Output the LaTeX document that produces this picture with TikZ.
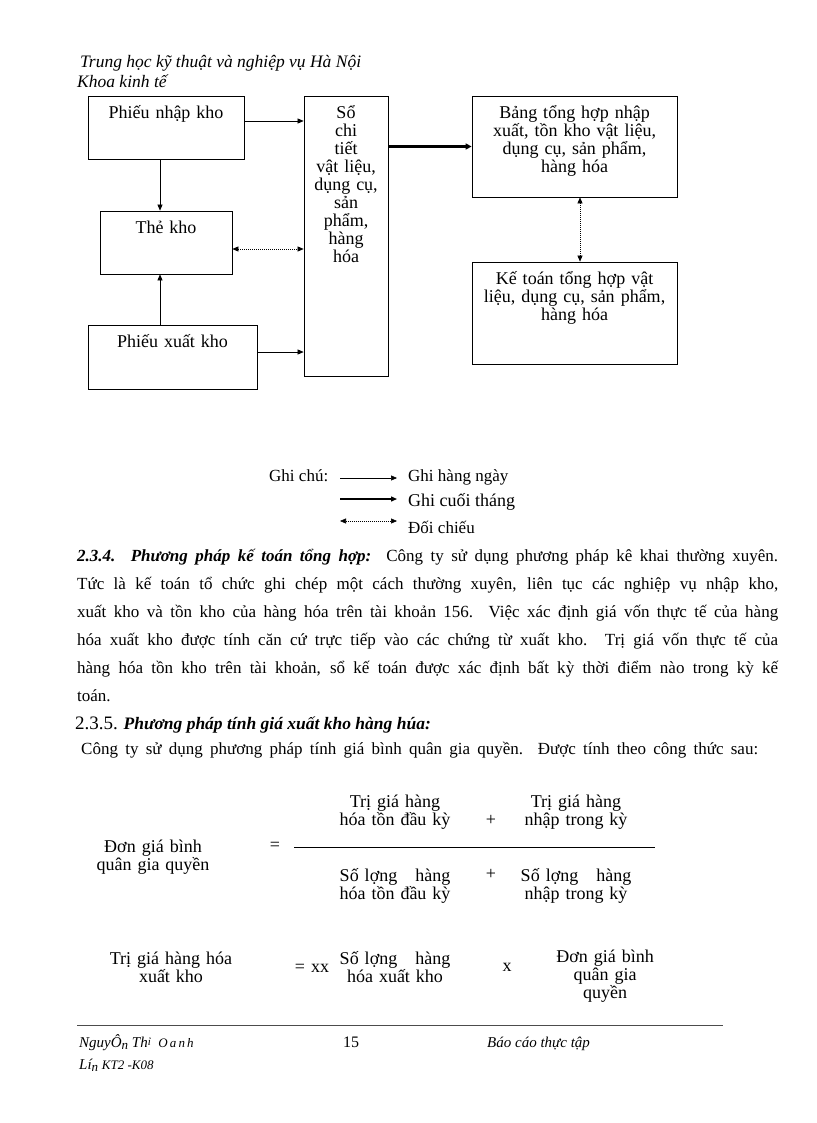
\documentclass[tikz,border=0pt]{standalone}
\usepackage{fontspec}
\setmainfont{Liberation Serif}
\usetikzlibrary{arrows.meta,calc}

\begin{document}
\begin{tikzpicture}[x=1pt,y=-1pt,>={Triangle[length=6pt,width=5pt]}]

% ---------- styles ----------
\tikzset{
  box/.style={draw, line width=0.8pt, inner sep=0pt},
  boxtext/.style={inner sep=0pt, anchor=base, text width=200pt, align=center,
    font=\fontsize{18}{18}\selectfont},
  flow/.style={->, line width=0.6pt},
  total/.style={-{Triangle[length=6pt,width=6pt]}, line width=2.4pt},
  check/.style={<->, line width=0.6pt, dash pattern=on 1pt off 1pt},
  header/.style={inner sep=0pt, anchor=base west, font=\fontsize{17.5}{20}\selectfont\itshape},
  legend/.style={inner sep=0pt, anchor=base west, font=\fontsize{17}{20}\selectfont},
  para/.style={inner sep=0pt, anchor=base west, text width=701pt, align=justify,
    font=\fontsize{17}{28}\selectfont},
  formula/.style={inner sep=0pt, text width=140pt, align=center,
    font=\fontsize{18}{18}\selectfont},
  footer/.style={inner sep=0pt, anchor=base west, font=\fontsize{15}{18}\selectfont\itshape}
}
\newcommand{\fullline}[2]{\makebox[#1][s]{\spaceskip0pt\xspaceskip0pt #2}}
\newcommand{\smallfoot}[1]{{\fontsize{11}{12}\selectfont #1}}
\newcommand{\midfoot}[1]{{\fontsize{13}{14}\selectfont #1}}

\useasboundingbox (0,0) rectangle (816,1123);

% ---------- header ----------
\node[header] (truong) at (80,68) {Trung học kỹ thuật và nghiệp vụ Hà Nội};
\node[header] (khoa) at (77,88) {Khoa kinh tế};

% ---------- boxes ----------
\node[box, minimum width=156, minimum height=63] (nhap) at (166,127.5) {};
\node[box, minimum width=132, minimum height=63] (the) at (166,242.5) {};
\node[box, minimum width=169, minimum height=64] (xuat) at (172.5,357) {};
\node[box, minimum width=84, minimum height=280] (so) at (346,236) {};
\node[box, minimum width=205, minimum height=101] (bang) at (574.5,146.5) {};
\node[box, minimum width=205, minimum height=102] (ketoan) at (574.5,313) {};

\node[boxtext] (nhap-t) at ([yshift=-23pt]nhap.north) {Phiếu nhập kho};
\node[boxtext] (the-t) at ([yshift=-23pt]the.north) {Thẻ kho};
\node[boxtext] (xuat-t) at ([yshift=-23pt]xuat.north) {Phiếu xuất kho};
\node[boxtext] (so-t) at ([yshift=-23pt]so.north)
  {Sổ\\chi\\tiết\\vật liệu,\\dụng cụ,\\sản\\phẩm,\\hàng\\hóa};
\node[boxtext] (bang-t) at ([yshift=-23pt]bang.north)
  {Bảng tổng hợp nhập\\xuất, tồn kho vật liệu,\\dụng cụ, sản phẩm,\\hàng hóa};
\node[boxtext] (ketoan-t) at ([yshift=-23pt]ketoan.north)
  {Kế toán tổng hợp vật\\liệu, dụng cụ, sản phẩm,\\hàng hóa};

% ---------- connectors ----------
\draw[flow] ([yshift=6.5pt]nhap.east) -- ([yshift=6.5pt]nhap.east -| so.west);
\draw[flow] ([yshift=5pt]xuat.east) -- ([yshift=5pt]xuat.east -| so.west);
\draw[flow] ([xshift=-6pt]nhap.south) -- ([xshift=-6pt]nhap.south |- the.north);
\draw[flow] ([xshift=-12.5pt]xuat.north) -- ([xshift=-12.5pt]xuat.north |- the.south);
\draw[check] ([yshift=-6.5pt]the.east) -- ([yshift=-6.5pt]the.east -| so.west);
\draw[total] (so.east |- bang.west) -- (bang.west);
\draw[check] ([xshift=5.5pt]bang.south) -- ([xshift=5.5pt]bang.south |- ketoan.north);

% ---------- legend ----------
\node[legend] (ghichu) at (269,481) {Ghi chú:};
\node[legend] (hangngay) at (408,481) {Ghi hàng ngày};
\node[legend, font=\fontsize{18}{20}\selectfont] (cuoithang) at (408,506) {Ghi cuối tháng};
\node[legend] (doichieu) at (408,533) {Đối chiếu};
\coordinate (l1) at (340,478);
\coordinate (l2) at (340,499);
\coordinate (l3) at (340,521);
\draw[flow] (l1) -- ([xshift=-11pt]l1 -| hangngay.west);
\draw[flow, line width=1.3pt] (l2) -- ([xshift=-11pt]l2 -| cuoithang.west);
\draw[check] (l3) -- ([xshift=-11pt]l3 -| doichieu.west);

% ---------- text ----------
\node[para] (p234) at (77,561) {%
\fullline{701pt}{{\bfseries\itshape 2.3.4. Phương pháp kế toán tổng hợp:}\ \ Công ty sử dụng phương pháp kê khai thường xuyên.}\\
\fullline{701pt}{Tức là kế toán tổ chức ghi chép một cách thường xuyên, liên tục các nghiệp vụ nhập kho,}\\
\fullline{701pt}{xuất kho và tồn kho của hàng hóa trên tài khoản 156. Việc xác định giá vốn thực tế của hàng}\\
\fullline{701pt}{hóa xuất kho được tính căn cứ trực tiếp vào các chứng từ xuất kho. Trị giá vốn thực tế của}\\
\fullline{701pt}{hàng hóa tồn kho trên tài khoản, sổ kế toán được xác định bất kỳ thời điểm nào trong kỳ kế}\\
toán.};
\node[legend] (p235) at (75,729)
  {{\fontsize{19}{20}\selectfont 2.3.5.} {\fontsize{17.5}{20}\selectfont\bfseries\itshape Phương pháp tính giá xuất kho hàng húa:}};
\node[para, text width=677pt] (congthuc) at (81,754)
  {\fullline{677pt}{Công ty sử dụng phương pháp tính giá bình quân gia quyền. Được tính theo công thức sau:}};

% ---------- formulas ----------
\node[formula] (dgbq) at (153,857) {Đơn giá bình\\quân gia quyền};
\node[formula] (eq1) at (275,846) {=};
\draw[line width=0.8pt] (294,847) -- (655,847);
\node[formula] (tu1) at (395,812.5) {Trị giá hàng\\hóa tồn đầu kỳ};
\node[formula] (plus1) at (491,820) {+};
\node[formula] (tu2) at (576,812.5) {Trị giá hàng\\nhập trong kỳ};
\node[formula] (mau1) at (395,886) {Số lợng\ \ \ hàng\\hóa tồn đầu kỳ};
\node[formula] (plus2) at (491,874) {+};
\node[formula] (mau2) at (576,886) {Số lợng\ \ \ hàng\\nhập trong kỳ};
\node[formula] (tghh) at (171,967) {Trị giá hàng hóa\\xuất kho};
\node[formula] (eq2) at (312,968) {= xx};
\node[formula] (slxk) at (395,967) {Số lợng\ \ \ hàng\\hóa xuất kho};
\node[formula] (nhan) at (507,967) {x};
\node[formula] (dgbq2) at (605,976) {Đơn giá bình\\quân gia\\quyền};

% ---------- footer ----------
\draw[line width=0.8pt, black!70] (77,1025) -- (723,1025);
\node[footer] (tacgia) at (79,1047)
  {NguyÔ\raisebox{-2pt}{\midfoot{n}} Th\raisebox{2pt}{\smallfoot{ỉ}}\ \ \midfoot{O\,a\,n\,h}};
\node[footer] (lop) at (79,1069)
  {Lí\raisebox{-2pt}{\midfoot{n}} \midfoot{KT2 -K08}};
\node[footer, font=\fontsize{16}{18}\selectfont] (trang) at (343,1047) {15};
\node[footer] (baocao) at (487,1047) {Báo cáo thực tập};

\end{tikzpicture}
\end{document}
